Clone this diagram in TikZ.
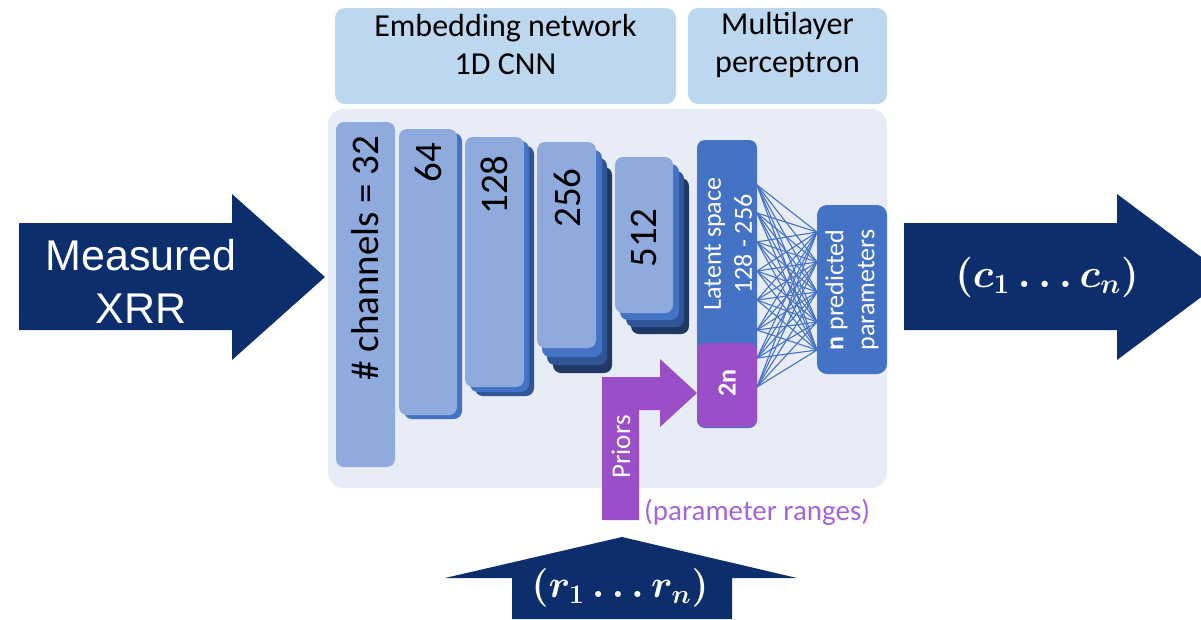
\documentclass[tikz,border=0pt]{standalone}
\usepackage{fontspec}
\setmainfont{Carlito}
\newfontfamily\arialf{Liberation Sans}
\usetikzlibrary{fit}
\definecolor{navy}{RGB}{13,46,108}
\definecolor{topblue}{RGB}{189,215,238}
\definecolor{bgblue}{RGB}{232,236,246}
\definecolor{lay}{RGB}{143,170,220}
\definecolor{shA}{RGB}{68,114,196}
\definecolor{shB}{RGB}{47,85,151}
\definecolor{shC}{RGB}{32,56,100}
\definecolor{purp}{RGB}{154,79,200}
\definecolor{purptxt}{RGB}{165,100,215}
\begin{document}
\begin{tikzpicture}[x=1pt,y=-1pt,
  topbox/.style={fill=topblue, inner sep=0pt, rounded corners=10pt, align=center, font=\fontsize{32}{38}\selectfont},
  laybox/.style={fill=lay, inner sep=0pt, rounded corners=8pt},
  shadowA/.style={fill=shA, inner sep=0pt, rounded corners=8pt},
  shadowB/.style={fill=shB, inner sep=0pt, rounded corners=8pt},
  shadowC/.style={fill=shC, inner sep=0pt, rounded corners=8pt},
  laytext/.style={rotate=90, inner sep=0pt, font=\fontsize{39}{47}\selectfont},
  mlptext/.style={rotate=90, inner sep=0pt, text=white, align=center, font=\fontsize{26}{31}\selectfont},
  mathlabel/.style={text=white, inner sep=0pt, font=\fontsize{24}{28}\selectfont\boldmath},
  bigarrow/.style={fill=navy},
  link/.style={draw=shA, line width=1.1pt}]
\useasboundingbox (0,0) rectangle (1201,619);
\clip (0,0) rectangle (1201,619);

% top labels
\node[topbox, fit={(335,8) (676,104)}] (emb) {Embedding network\\1D CNN};
\node[topbox, fit={(688,8) (887,104)}] (mlp) {Multilayer\\perceptron};

% background panel
\node[fill=bgblue, inner sep=0pt, rounded corners=16pt, fit={(328,109) (887,488)}] (bg) {};

% arrows
\fill[bigarrow] (19,223) -- (232,223) -- (232,194) -- (325,277) -- (232,360) -- (232,330) -- (19,330) -- cycle;
\node[text=white, align=center, inner sep=0pt, font=\arialf\fontsize{43}{53}\selectfont] (xrr) at (141,281) {Measured\\XRR};

\fill[bigarrow] (904,223) -- (1117,223) -- (1117,194) -- (1228,277) -- (1117,360) -- (1117,330) -- (904,330) -- cycle;
\node[mathlabel] (out) at (1047,277) {\scalebox{1.62}{$(c_1\ldots c_n)$}};

\fill[bigarrow] (512,619) -- (512,578) -- (445,578) -- (622,537) -- (797,578) -- (732,578) -- (732,619) -- cycle;
\node[mathlabel] (inp) at (620,588) {\scalebox{1.55}{$(r_1\ldots r_n)$}};

% layer 1
\node[laybox, fit={(336,122) (395,467)}] (L1) {};
\node[laytext] (T1) at (365,258) {\# channels = 32};
% layer 2
\node[shadowA, fit={(404,133) (462,419)}] (L2a) {};
\node[laybox, fit={(399,129) (457,415)}] (L2) {};
\node[laytext] (T2) at (428,163) {64};
% layer 3
\node[shadowB, fit={(475,146) (534,396)}] (L3b) {};
\node[shadowA, fit={(470,141) (529,392)}] (L3a) {};
\node[laybox, fit={(465,137) (524,387)}] (L3) {};
\node[laytext] (T3) at (494,185) {128};
% layer 4
\node[shadowC, fit={(553,167) (612,373)}] (L4c) {};
\node[shadowB, fit={(547,158) (607,365)}] (L4b) {};
\node[shadowA, fit={(542,150) (602,357)}] (L4a) {};
\node[laybox, fit={(537,142) (596,348)}] (L4) {};
\node[laytext] (T4) at (567,198) {256};
% layer 5
\node[shadowC, fit={(631,178) (689,334)}] (L5c) {};
\node[shadowB, fit={(626,171) (684,327)}] (L5b) {};
\node[shadowA, fit={(620,164) (679,320)}] (L5a) {};
\node[laybox, fit={(615,157) (673,313)}] (L5) {};
\node[laytext] (T5) at (644,238) {512};

% MLP
\foreach \i/\y in {1/185,2/213,3/242,4/271,5/300,6/330,7/358,8/387}
  \coordinate (a\i) at (757,\y);
\foreach \j/\y in {1/232,2/262,3/292,4/322,5/350}
  \coordinate (b\j) at (817,\y);
\foreach \i in {1,...,8}
  \foreach \j in {1,...,5}
    \draw[link] (a\i) -- (b\j);

\node[fill=shA, inner sep=0pt, rounded corners=8pt, fit={(697,140) (757,428)}] (lat) {};
\node[mlptext] (latT) at (728,244) {Latent space\\128 - 256};
\node[fill=purp, inner sep=0pt, rounded corners=8pt, fit={(697,343) (757,427)}] (two) {};
\node[mlptext] (twoT) at (727,383) {\textbf{2n}};
\node[fill=shA, inner sep=0pt, rounded corners=10pt, fit={(817,205) (887,374)}] (par) {};
\node[mlptext] (parT) at (852,290) {\textbf{n} predicted\\parameters};

% priors arrow
\fill[purp] (602,520) -- (602,377) -- (660,377) -- (660,359) -- (697,393) -- (660,427) -- (660,410) -- (639,410) -- (639,520) -- cycle;
\node[rotate=90, inner sep=0pt, text=white, font=\fontsize{27}{32}\selectfont] (pri) at (621,447) {Priors};
\node[anchor=west, inner sep=0pt, text=purptxt, font=\fontsize{29}{34}\selectfont] (rng) at (644,512) {(parameter ranges)};
\end{tikzpicture}
\end{document}
